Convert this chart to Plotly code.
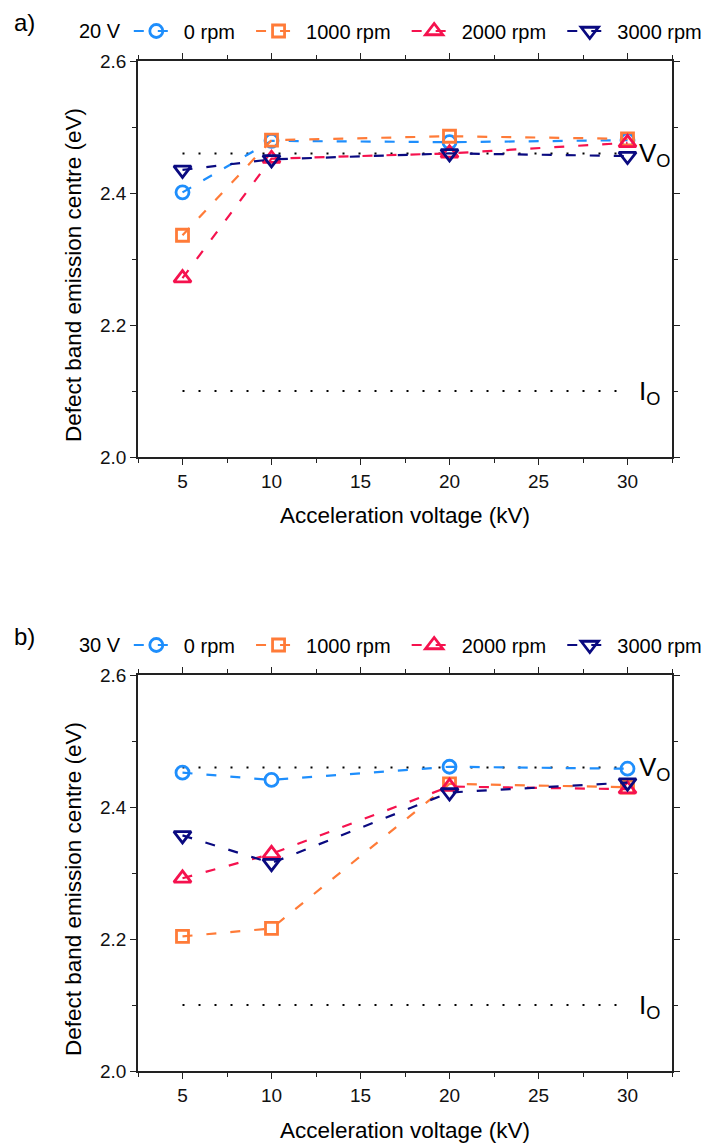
import plotly.graph_objects as go

# ---------------- data ----------------
kv = [5, 10, 20, 30]
series_names = ["0 rpm", "1000 rpm", "2000 rpm", "3000 rpm"]

# panel a) 20 V
a_0rpm = [2.401, 2.479, 2.477, 2.480]
a_1000rpm = [2.336, 2.480, 2.486, 2.482]
a_2000rpm = [2.271, 2.452, 2.460, 2.476]
a_3000rpm = [2.435, 2.451, 2.460, 2.456]

# panel b) 30 V
b_0rpm = [2.452, 2.441, 2.461, 2.458]
b_1000rpm = [2.204, 2.216, 2.435, 2.430]
b_2000rpm = [2.292, 2.329, 2.431, 2.427]
b_3000rpm = [2.357, 2.315, 2.422, 2.437]

# reference levels
ref_x = [5, 30]
vo_level = 2.46
io_level = 2.10

panel_titles = ["20 V", "30 V"]
x_title = "Acceleration voltage (kV)"
y_title = "Defect band emission centre (eV)"

# ---------------- styling ----------------
colors = ["#1E8EFC", "#FF7B38", "#F5124E", "#0A0A80"]
symbols = ["circle-open", "square-open", "triangle-up-open", "triangle-down-open"]
sizes = [13, 12, 15, 15]
FONT = "Arial, Liberation Sans, sans-serif"

# the page body adds an 8px margin, so the figure is drawn 8px smaller
OFF = 8
W, H = 710 - OFF, 1147 - OFF


def px(rx):
    return (rx - OFF) / W


def py(ry):
    return 1 - (ry - OFF) / H


px_x0, px_x1 = 138, 672
panel_top = [61, 675]
panel_h = 396

fig = go.Figure()

panels = [
    ("x", "y", "legend", [a_0rpm, a_1000rpm, a_2000rpm, a_3000rpm]),
    ("x2", "y2", "legend2", [b_0rpm, b_1000rpm, b_2000rpm, b_3000rpm]),
]

for xa, ya, leg, data in panels:
    for lvl in (vo_level, io_level):
        fig.add_trace(go.Scatter(
            x=ref_x, y=[lvl, lvl], mode="lines", xaxis=xa, yaxis=ya,
            line=dict(color="black", width=2, dash="2px,14px"),
            showlegend=False, hoverinfo="skip"))
    for i, vals in enumerate(data):
        pad = "\u00a0\u00a0" if i < len(data) - 1 else ""
        fig.add_trace(go.Scatter(
            x=kv, y=vals, mode="lines+markers", name=series_names[i] + pad,
            xaxis=xa, yaxis=ya, legend=leg,
            line=dict(color=colors[i], width=2.2, dash="10px,14px"),
            marker=dict(symbol=symbols[i], size=sizes[i], color=colors[i],
                        line=dict(width=2.8, color=colors[i]))))

axis_common = dict(
    showline=True, linecolor="#222", linewidth=1.5, mirror="allticks",
    ticks="outside", ticklen=6, tickwidth=1.3, tickcolor="#222",
    showgrid=False, zeroline=False, automargin=False,
    tickfont=dict(family=FONT, size=19, color="#111"),
)

xdom = [px(px_x0), px(px_x1)]
for k, (xa, ya) in enumerate([("xaxis", "yaxis"), ("xaxis2", "yaxis2")]):
    yname = "y" if k == 0 else "y2"
    xname = "x" if k == 0 else "x2"
    top = panel_top[k]
    fig.layout[xa] = dict(
        domain=xdom, anchor=yname, range=[2.5, 32.5],
        tickmode="linear", tick0=5, dtick=5,
        minor=dict(dtick=2.5, tick0=2.5, ticks="outside", ticklen=4,
                   tickwidth=1.2, tickcolor="#222", showgrid=False),
        **axis_common)
    fig.layout[ya] = dict(
        domain=[py(top + panel_h), py(top)], anchor=xname, range=[2.0, 2.6],
        tickmode="linear", tick0=2.0, dtick=0.2, tickformat=".1f",
        minor=dict(dtick=0.1, ticks="outside", ticklen=4,
                   tickwidth=1.2, tickcolor="#222", showgrid=False),
        **axis_common)

annotations = []
for k, top in enumerate(panel_top):
    xr = "x" if k == 0 else "x2"
    yr = "y" if k == 0 else "y2"
    annotations.append(dict(
        text="a)" if k == 0 else "b)", xref="paper", yref="paper",
        x=px(12), y=py(top - 39), xanchor="left", yanchor="middle",
        showarrow=False, font=dict(family=FONT, size=24, color="black")))
    annotations.append(dict(
        text=x_title, xref="paper", yref="paper",
        x=px((px_x0 + px_x1) / 2), y=py(top + 455),
        xanchor="center", yanchor="middle", showarrow=False,
        font=dict(family=FONT, size=22.5, color="black")))
    annotations.append(dict(
        text=y_title, xref="paper", yref="paper", textangle=-90,
        x=px(73), y=py(top + 214),
        xanchor="center", yanchor="middle", showarrow=False,
        font=dict(family=FONT, size=22.5, color="black")))
    for lbl, lvl in (("V<sub>O</sub>", vo_level), ("I<sub>O</sub>", io_level)):
        annotations.append(dict(
            text=lbl, xref=xr, yref=yr, x=30.55, y=lvl,
            xanchor="left", yanchor="middle", showarrow=False, yshift=-1,
            font=dict(family=FONT, size=26, color="black")))

legend_common = dict(
    orientation="h", xanchor="left", yanchor="middle",
    bgcolor="rgba(0,0,0,0)", borderwidth=0, itemwidth=45,
    font=dict(family=FONT, size=20, color="black"),
    tracegroupgap=0, itemclick=False,
)

fig.update_layout(
    width=W, height=H,
    margin=dict(l=0, r=0, t=0, b=0, autoexpand=False),
    paper_bgcolor="white", plot_bgcolor="white",
    annotations=annotations,
    legend=dict(x=px(77), y=py(31),
                title=dict(text=panel_titles[0], side="left",
                           font=dict(family=FONT, size=20, color="black")),
                **legend_common),
    legend2=dict(x=px(77), y=py(645),
                 title=dict(text=panel_titles[1], side="left",
                            font=dict(family=FONT, size=20, color="black")),
                 **legend_common),
)

fig.write_html("out.html")
